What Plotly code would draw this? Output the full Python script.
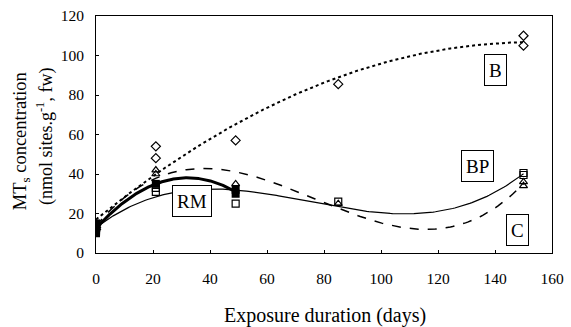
import numpy as np
import plotly.graph_objects as go

# Data (days, concentration)
b_days = [0, 0, 0, 21, 21, 49, 85, 150, 150]
b_vals = [12, 13, 14, 54, 48, 57, 85.5, 110, 105]
c_days = [0, 0, 0, 21, 21, 49, 85, 150, 150]
c_vals = [12, 13, 14, 42, 40, 35, 25, 36, 34]
bp_days = [0, 0, 0, 21, 21, 49, 85, 150, 150]
bp_vals = [11, 12, 13, 31, 33, 25, 26, 40.5, 39.5]
rm_days = [0, 0, 0, 21, 49, 49]
rm_vals = [10, 12.5, 15, 35, 32, 30]

x_ticks = [0, 20, 40, 60, 80, 100, 120, 140, 160]
y_ticks = [0, 20, 40, 60, 80, 100, 120]

labels = ["B", "BP", "C", "RM"]
label_x = [140, 134, 148, 33.6]
label_y = [92.8, 43.9, 11.7, 26.3]

serif = "Liberation Serif"

def trend(xs, ys, deg, xmax):
    p = np.polyfit(xs, ys, deg)
    xx = np.linspace(0, xmax, 200)
    return xx, np.polyval(p, xx)

fig = go.Figure()

for xs, ys, deg, xmax, dash, w in [
    (b_days, b_vals, 2, 150, "dot", 2),
    (c_days, c_vals, 3, 150, "dash", 1.5),
    (bp_days, bp_vals, 3, 150, "solid", 1.2),
    (rm_days, rm_vals, 2, 49, "solid", 3),
]:
    xx, yy = trend(xs, ys, deg, xmax)
    fig.add_trace(go.Scatter(x=xx, y=yy, mode="lines",
                             line=dict(color="black", width=w, dash=dash),
                             showlegend=False, hoverinfo="skip"))

fig.add_trace(go.Scatter(x=b_days, y=b_vals, mode="markers",
                         marker=dict(symbol="diamond-open", size=7, color="black", line=dict(width=1.2)),
                         showlegend=False))
fig.add_trace(go.Scatter(x=c_days, y=c_vals, mode="markers",
                         marker=dict(symbol="triangle-up-open", size=7, color="black", line=dict(width=1.2)),
                         showlegend=False))
fig.add_trace(go.Scatter(x=bp_days, y=bp_vals, mode="markers",
                         marker=dict(symbol="square-open", size=7, color="black", line=dict(width=1.2)),
                         showlegend=False))
fig.add_trace(go.Scatter(x=rm_days, y=rm_vals, mode="markers",
                         marker=dict(symbol="square", size=8, color="black"),
                         showlegend=False))

for t, lx, ly in zip(labels, label_x, label_y):
    fig.add_annotation(x=lx, y=ly, text=t, showarrow=False, xanchor="center", yanchor="middle",
                       font=dict(family=serif, size=19, color="black"), height=22,
                       bordercolor="black", borderwidth=1, borderpad=4, bgcolor="white")

L, R, T, B = 96, 13, 7, 74
W, H = 571, 327
pw, ph = W - L - R, H - T - B

def px(xp):
    return (xp - L) / pw

def py(yp):
    return (H - B - yp) / ph

fig.add_annotation(x=px(20), y=py(137), xref="paper", yref="paper", text="MT<sub>s</sub> concentration",
                   showarrow=False, textangle=-90, xanchor="center", yanchor="middle",
                   font=dict(family=serif, size=18.5, color="black"))
fig.add_annotation(x=px(45), y=py(132), xref="paper", yref="paper", text="(nmol sites.g<sup>-1</sup>, fw)",
                   showarrow=False, textangle=-90, xanchor="center", yanchor="middle",
                   font=dict(family=serif, size=18, color="black"))
fig.add_annotation(x=px(328), y=py(318), xref="paper", yref="paper", text="Exposure duration (days)",
                   showarrow=False, xanchor="center", yanchor="middle",
                   font=dict(family=serif, size=20, color="black"))

axis_common = dict(showline=True, linecolor="black", linewidth=1, mirror=True,
                   ticks="inside", ticklen=3, tickcolor="black", showgrid=False, zeroline=False,
                   ticklabeloverflow="allow",
                   tickfont=dict(family=serif, size=15.5, color="black"))

fig.update_layout(
    width=W, height=H,
    margin=dict(l=L, r=R, t=T, b=B),
    plot_bgcolor="white", paper_bgcolor="white",
    xaxis=dict(range=[0, 160], tickvals=x_ticks, ticklabelstandoff=11, **axis_common),
    yaxis=dict(range=[0, 120], tickvals=y_ticks, ticklabelstandoff=8, **axis_common),
)

fig.write_html("out.html")
